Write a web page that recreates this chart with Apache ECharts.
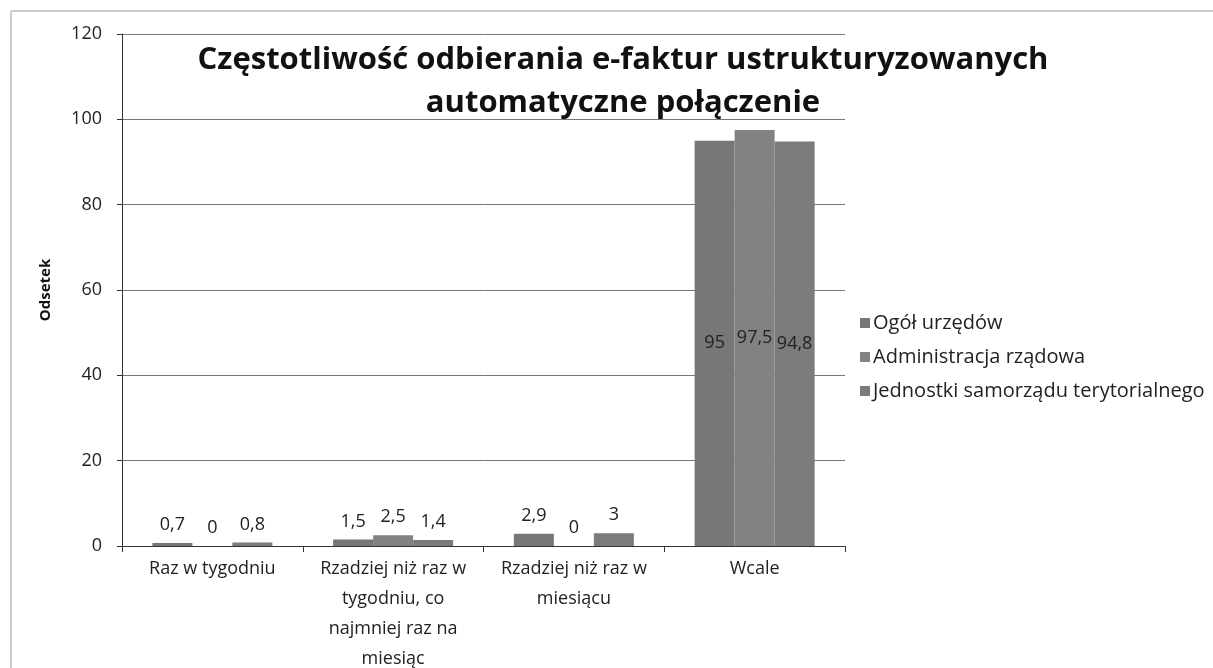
<!DOCTYPE html>
<html>
<head>
<meta charset="utf-8">
<script src="https://cdn.jsdelivr.net/npm/echarts@6/dist/echarts.min.js"></script>
<style>
  html, body { margin: 0; padding: 0; background: #fff; }
  #chart { width: 1213px; height: 668px; }
</style>
</head>
<body>
<div id="chart"></div>
<script>
const categories = [
  "Raz w tygodniu",
  "Rzadziej niż raz w\ntygodniu, co\nnajmniej raz na\nmiesiąc",
  "Rzadziej niż raz w\nmiesiącu",
  "Wcale"
];
const seriesNames = ["Ogół urzędów", "Administracja rządowa", "Jednostki samorządu terytorialnego"];
const ogol = [0.7, 1.5, 2.9, 95];
const administracja = [0, 2.5, 0, 97.5];
const jst = [0.8, 1.4, 3, 94.8];
const yTicks = [0, 20, 40, 60, 80, 100, 120];

const barColors = ["#777777", "#828282", "#7b7b7b"];
const font = "'Open Sans', 'DejaVu Sans', sans-serif";

const toItems = (values) => values.map((v, i) => {
  // last category: labels sit inside the tall bars
  if (i === values.length - 1) {
    return { value: v, label: { position: "inside" } };
  }
  return v;
});

const chart = echarts.init(document.getElementById("chart"));

const makeSeries = (name, values, idx) => ({
  name,
  type: "bar",
  data: toItems(values),
  barWidth: 40,
  barGap: "0%",
  itemStyle: { color: barColors[idx] },
  label: {
    show: true,
    position: "top",
    distance: 9,
    color: "#222",
    fontFamily: font,
    fontSize: 18,
    formatter: (p) => String(p.value).replace(".", ",")
  },
  animation: false
});

const option = {
  backgroundColor: "#fff",
  title: {
    text: "Częstotliwość odbierania e-faktur ustrukturyzowanych\nautomatyczne połączenie",
    left: 618,
    top: 34,
    textAlign: "center",
    textStyle: {
      fontFamily: font,
      fontWeight: "bold",
      fontSize: 31,
      lineHeight: 43,
      color: "#111"
    }
  },
  legend: {
    orient: "vertical",
    left: 855,
    top: 308,
    itemWidth: 10,
    itemHeight: 10,
    itemGap: 14,
    icon: "rect",
    textStyle: { fontFamily: font, fontSize: 20, color: "#222", padding: [0, 0, 0, -2] },
    data: seriesNames
  },
  graphic: [{
    type: "rect",
    shape: { x: 11, y: 11, width: 1210, height: 680 },
    style: { fill: null, stroke: "#999", lineWidth: 1 },
    silent: true
  }],
  grid: { left: 122, right: 368, top: 34, bottom: 122, outerBoundsMode: "none" },
  xAxis: {
    type: "category",
    data: categories,
    axisLine: { lineStyle: { color: "#333" } },
    axisTick: { show: true, length: 6, lineStyle: { color: "#333" } },
    axisLabel: {
      fontFamily: font,
      fontSize: 18,
      color: "#222",
      lineHeight: 30,
      margin: 8,
      interval: 0
    }
  },
  yAxis: {
    type: "value",
    min: yTicks[0],
    max: yTicks[yTicks.length - 1],
    interval: 20,
    name: "Odsetek",
    nameLocation: "middle",
    nameGap: 69,
    nameTextStyle: { fontFamily: font, fontSize: 15, fontWeight: "bold", color: "#111" },
    axisLine: { show: true, lineStyle: { color: "#333" } },
    axisTick: { show: true, length: 5, lineStyle: { color: "#333" } },
    axisLabel: { fontFamily: font, fontSize: 18, color: "#222", margin: 20 },
    splitLine: { lineStyle: { color: "#777", width: 1 } }
  },
  series: [
    makeSeries(seriesNames[0], ogol, 0),
    makeSeries(seriesNames[1], administracja, 1),
    makeSeries(seriesNames[2], jst, 2)
  ]
};

chart.setOption(option);
</script>
</body>
</html>
